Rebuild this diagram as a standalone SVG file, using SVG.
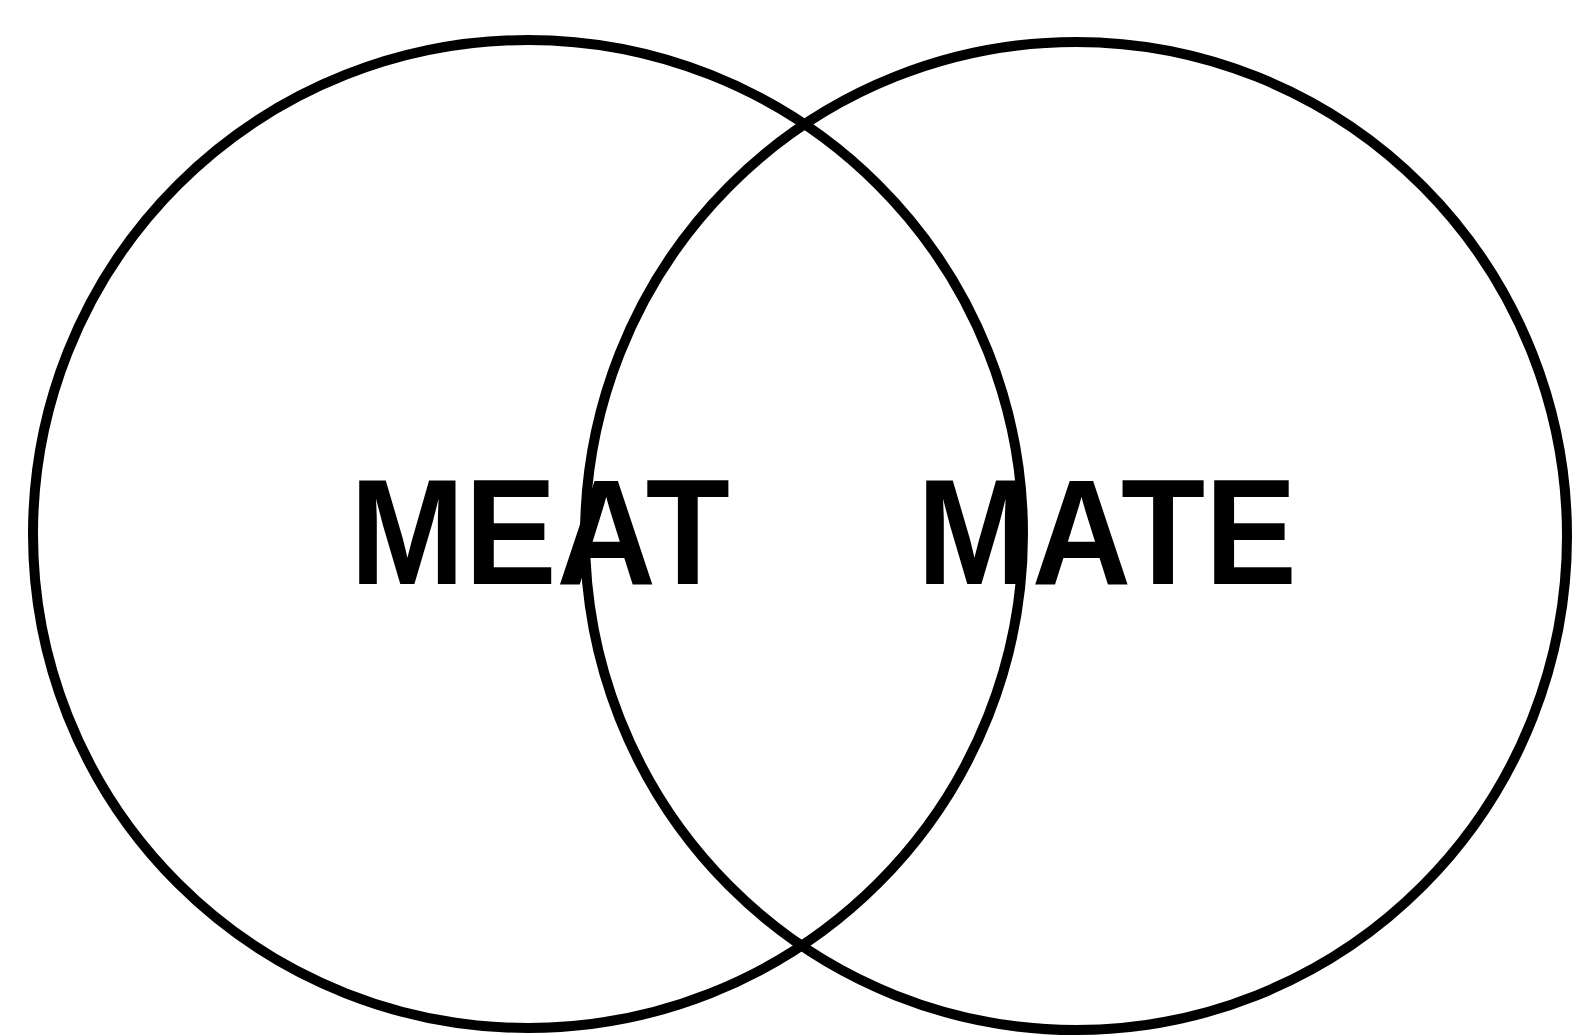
<svg xmlns="http://www.w3.org/2000/svg" width="1573" height="1035" viewBox="0 0 1573 1035">
<style>
.c{fill:none;stroke:#000;stroke-width:10}
.t{font-family:"Liberation Sans",Arial,sans-serif;font-size:150px;font-weight:bold;fill:#000}
</style>
<rect width="1573" height="1035" fill="#fff"/>
<g id="left">
<ellipse class="c" cx="528" cy="534" rx="495" ry="494"/>
</g>
<g id="right">
<ellipse class="c" cx="1076" cy="536" rx="491" ry="494"/>
</g>
<g id="labels">
<text class="t" x="350" y="584" textLength="380" lengthAdjust="spacingAndGlyphs">MEAT</text>
<text class="t" x="917" y="584" textLength="380" lengthAdjust="spacingAndGlyphs">MATE</text>
</g>
<g id="connectors"></g>
</svg>
